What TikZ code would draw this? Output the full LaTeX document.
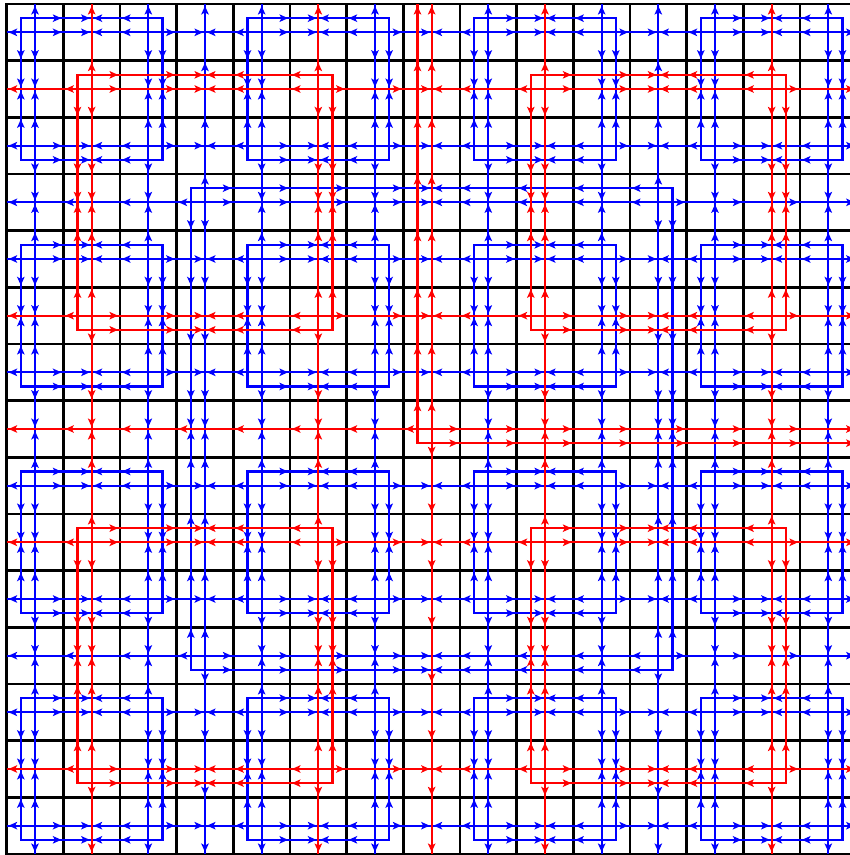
\documentclass[tikz,border=0pt]{standalone}
\usetikzlibrary{arrows.meta}
\tikzset{
  gridline/.style={black, line width=2.8pt, line cap=rect},
  lineA/.style={blue, line width=2.1pt},
  lineB/.style={red, line width=2.1pt},
  headA/.style={blue, line width=2.1pt, -{Stealth[length=8.5pt,width=7.5pt,inset=2pt]}},
  headB/.style={red, line width=2.1pt, -{Stealth[length=8.5pt,width=7.5pt,inset=2pt]}},
}
% #1 = H or V, #2 = fixed coordinate, #3 = sender index, #4 = half span, #5 = directions, #6 = head style
\newcommand\linkarrows[6]{%
  \foreach \s in {#5}{%
    \foreach \i in {0,...,#4}{%
      \pgfmathsetmacro\pp{#3+(\s)*min(\i+0.5,#4)}%
      \pgfmathtruncatemacro\ok{and(\pp>-0.51,\pp<14.51)}%
      \ifnum\ok=1
        \pgfmathsetmacro\pa{\pp-(\s)*0.26}%
        \pgfmathsetmacro\pb{\pp-(\s)*0.035}%
        \if#1H\draw[#6] (\pa,#2) -- (\pb,#2);\else\draw[#6] (#2,\pa) -- (#2,\pb);\fi
      \fi
    }%
  }%
}
% #1 = min col, #2 = min row, #3 = span, #4 = half span, #5 = line style, #6 = head style
\newcommand\sqloop[6]{%
  \pgfmathsetmacro\xl{#1-0.25}\pgfmathsetmacro\xr{#1+#3+0.25}%
  \pgfmathsetmacro\yt{#2-0.25}\pgfmathsetmacro\yb{#2+#3+0.25}%
  \pgfmathtruncatemacro\sqb{#1+#3}\pgfmathtruncatemacro\squ{#2+#3}%
  \draw[#5] (\xl,\yt) rectangle (\xr,\yb);
  \linkarrows{H}{\yt}{#1}{#4}{1}{#6}
  \linkarrows{H}{\yt}{\sqb}{#4}{-1}{#6}
  \linkarrows{H}{\yb}{#1}{#4}{1}{#6}
  \linkarrows{H}{\yb}{\sqb}{#4}{-1}{#6}
  \linkarrows{V}{\xl}{#2}{#4}{1}{#6}
  \linkarrows{V}{\xl}{\squ}{#4}{-1}{#6}
  \linkarrows{V}{\xr}{#2}{#4}{1}{#6}
  \linkarrows{V}{\xr}{\squ}{#4}{-1}{#6}
}
\begin{document}
\begin{tikzpicture}[x={(56.6667pt,0pt)}, y={(0pt,-56.6667pt)}]
\useasboundingbox (-0.6176,-0.5706) rectangle (14.382,14.518);
\clip (-0.6176,-0.5706) rectangle (14.382,14.518);
\fill[white] (-0.6176,-0.5706) rectangle (14.382,14.518);
\foreach \k in {0,...,15}{
  \draw[gridline] (\k-0.5,-0.5) -- (\k-0.5,14.5);
  \draw[gridline] (-0.5,\k-0.5) -- (14.5,\k-0.5);
}
\begin{scope}
\clip (-0.5,-0.5) rectangle (14.5,14.5);
% ---- blue levels (1 and 3) ----
\foreach \r in {0,2,...,14,3,11}{
  \draw[lineA] (-0.5,\r) -- (14.5,\r);
  \draw[lineA] (\r,-0.5) -- (\r,14.5);
}
\foreach \a in {0,4,8,12}{\foreach \t in {0,4,8,12}{\sqloop{\a}{\t}{2}{1}{lineA}{headA}}}
\sqloop{3}{3}{8}{4}{lineA}{headA}
\foreach \r in {0,2,...,14}{\foreach \c in {0,2,...,14}{
  \linkarrows{H}{\r}{\c}{1}{-1,1}{headA}
  \linkarrows{V}{\r}{\c}{1}{-1,1}{headA}
}}
\foreach \r in {3,11}{\foreach \c in {3,11}{
  \linkarrows{H}{\r}{\c}{4}{-1,1}{headA}
  \linkarrows{V}{\r}{\c}{4}{-1,1}{headA}
}}
% ---- red levels (2 and 4) ----
\foreach \r in {1,5,7,9,13}{
  \draw[lineB] (-0.5,\r) -- (14.5,\r);
  \draw[lineB] (\r,-0.5) -- (\r,14.5);
}
\foreach \a in {1,9}{\foreach \t in {1,9}{\sqloop{\a}{\t}{4}{2}{lineB}{headB}}}
\sqloop{7}{-9}{16}{8}{lineB}{headB}
\foreach \r in {1,5,9,13}{\foreach \c in {1,5,9,13}{
  \linkarrows{H}{\r}{\c}{2}{-1,1}{headB}
  \linkarrows{V}{\r}{\c}{2}{-1,1}{headB}
}}
\linkarrows{H}{7}{7}{8}{-1,1}{headB}
\linkarrows{V}{7}{7}{8}{-1,1}{headB}
\end{scope}
\end{tikzpicture}
\end{document}
